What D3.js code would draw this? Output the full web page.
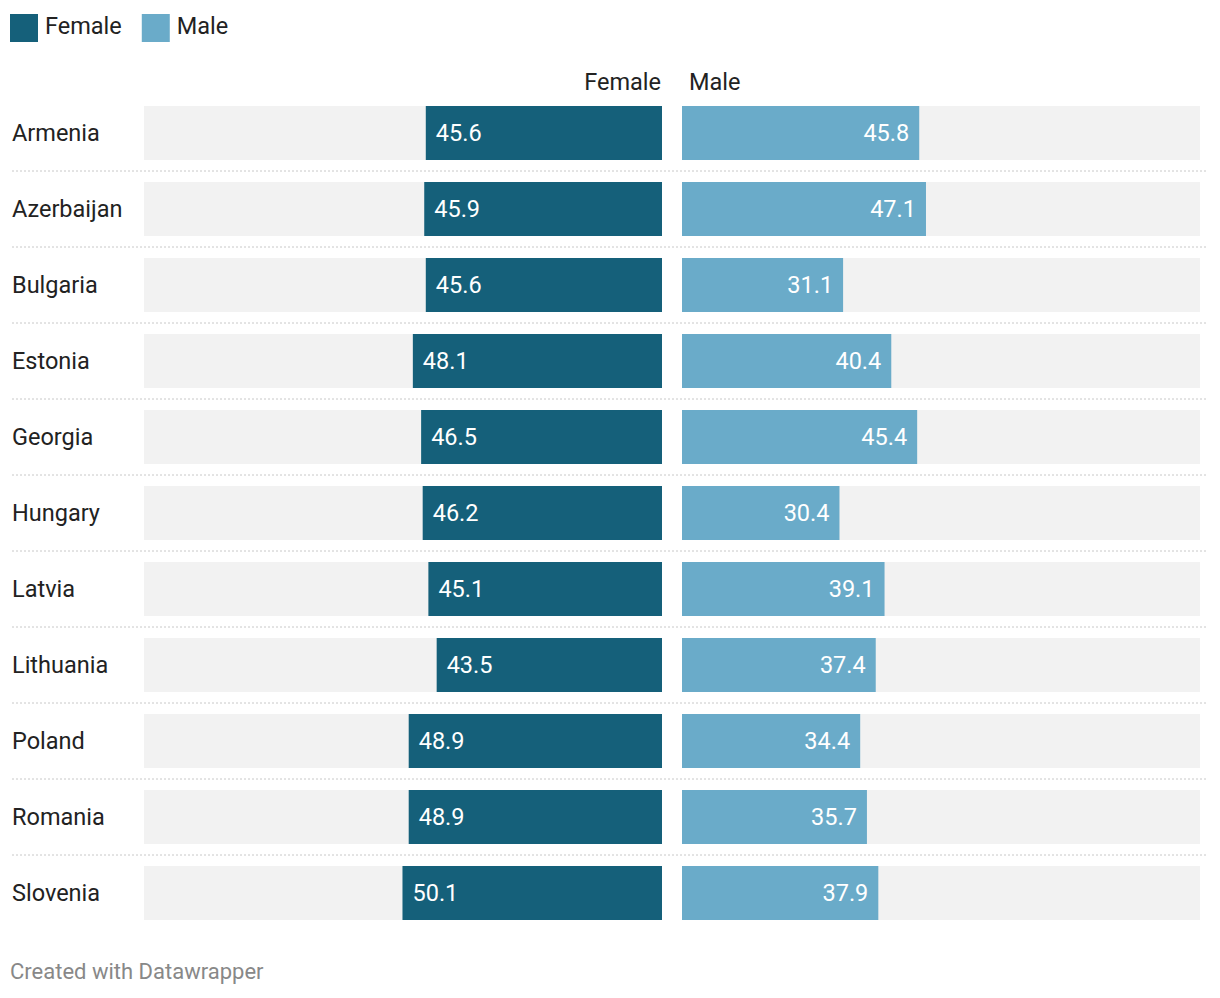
<!DOCTYPE html>
<html><head><meta charset="utf-8">
<script src="https://cdn.jsdelivr.net/npm/d3@7"></script>
<style>body{margin:0;background:#fff;}svg{display:block;font-family:Roboto,sans-serif;}</style>
</head><body><svg id="c" width="1220" height="998"></svg>
<script>
const countries = ["Armenia","Azerbaijan","Bulgaria","Estonia","Georgia","Hungary","Latvia","Lithuania","Poland","Romania","Slovenia"];
const female = [45.6,45.9,45.6,48.1,46.5,46.2,45.1,43.5,48.9,48.9,50.1];
const male = [45.8,47.1,31.1,40.4,45.4,30.4,39.1,37.4,34.4,35.7,37.9];
const seriesNames = ["Female","Male"];
const colors = {Female:"#15607a", Male:"#6aabc9"};

const svg = d3.select("#c");
const FS = 23.5;

// legend
const leg = svg.append("g");
let lx = 10;
seriesNames.forEach(s=>{
  leg.append("rect").attr("x",lx).attr("y",14).attr("width",28).attr("height",28).attr("fill",colors[s]);
  const t = leg.append("text").attr("x",lx+35).attr("y",34).attr("font-size",FS).attr("fill","#222").text(s);
  lx += 35 + t.node().getComputedTextLength() + 20;
});

const yb = d3.scaleBand().domain(countries).range([106, 106+76*11 - 22]).paddingInner(22/76);

const xF = d3.scaleLinear().domain([0,100]).range([662,144]);
const xM = d3.scaleLinear().domain([0,100]).range([682,1200]);

// headers
svg.append("text").attr("x",661).attr("y",90).attr("text-anchor","end").attr("font-size",FS).attr("fill","#222").text("Female");
svg.append("text").attr("x",689).attr("y",90).attr("font-size",FS).attr("fill","#222").text("Male");

const rows = svg.append("g").selectAll("g").data(countries).join("g");
const bw = yb.bandwidth();

// separators
rows.filter((d,i)=>i<countries.length-1).append("line")
  .attr("x1",12).attr("x2",1208)
  .attr("y1",d=>yb(d)+bw+11).attr("y2",d=>yb(d)+bw+11)
  .attr("stroke","#c8c8c8").attr("stroke-width",1).attr("stroke-dasharray","2,2");

rows.append("rect").attr("x",xF(100)).attr("width",xF(0)-xF(100)).attr("y",d=>yb(d)).attr("height",bw).attr("fill","#f2f2f2");
rows.append("rect").attr("x",xM(0)).attr("width",xM(100)-xM(0)).attr("y",d=>yb(d)).attr("height",bw).attr("fill","#f2f2f2");

rows.append("rect").attr("x",(d,i)=>xF(female[i])).attr("width",(d,i)=>xF(0)-xF(female[i])).attr("y",d=>yb(d)).attr("height",bw).attr("fill",colors.Female);
rows.append("rect").attr("x",xM(0)).attr("width",(d,i)=>xM(male[i])-xM(0)).attr("y",d=>yb(d)).attr("height",bw).attr("fill",colors.Male);

rows.append("text").attr("x",12).attr("y",d=>yb(d)+bw/2+8).attr("font-size",FS).attr("fill","#222").text(d=>d);
rows.append("text").attr("x",(d,i)=>xF(female[i])+10).attr("y",d=>yb(d)+bw/2+8).attr("font-size",FS).attr("fill","#fff").text((d,i)=>female[i].toFixed(1));
rows.append("text").attr("x",(d,i)=>xM(male[i])-10).attr("y",d=>yb(d)+bw/2+8).attr("text-anchor","end").attr("font-size",FS).attr("fill","#fff").text((d,i)=>male[i].toFixed(1));

svg.append("text").attr("x",10).attr("y",979).attr("font-size",22).attr("fill","#888").text("Created with Datawrapper");
</script></body></html>
